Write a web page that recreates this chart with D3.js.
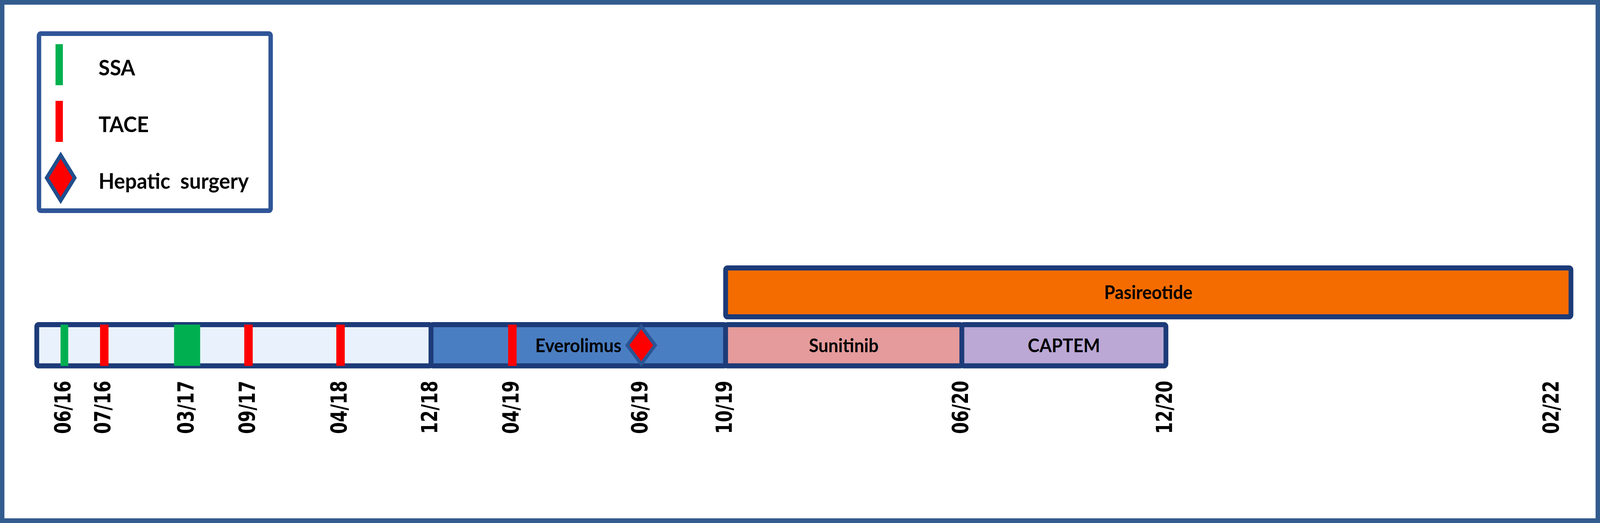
<!DOCTYPE html>
<html>
<head>
<meta charset="utf-8">
<script src="https://cdn.jsdelivr.net/npm/d3@7"></script>
<style>
  html, body { margin: 0; padding: 0; background: #fff; overflow: hidden; }
  svg { display: block; width: 100vw; height: 100vh; }
  text { font-family: Lato, "Open Sans", sans-serif; font-weight: bold; }
</style>
</head>
<body>
<div id="wrapper"></div>
<script>
// timeline dates and their place on the (schematic, non-linear) axis, 0-100
const dateLabels = ['06/16', '07/16', '03/17', '09/17', '04/18', '12/18', '04/19', '06/19', '10/19', '06/20', '12/20', '02/22'];
const datePos = [1.8, 4.4, 9.8, 13.8, 19.8, 25.7, 31.0, 39.4, 44.9, 60.3, 73.6, 98.8];
const axisEnds = { start: 0, end: 100 };

// therapy lines
const therapyName = ['', 'Everolimus', 'Sunitinib', 'CAPTEM', 'Pasireotide'];
const therapyFrom = ['start', '12/18', '10/19', '06/20', '10/19'];
const therapyTo = ['12/18', '10/19', '06/20', '12/20', 'end'];
const therapyRow = ['main', 'main', 'main', 'main', 'upper'];

// events
const ssaDates = ['06/16', '03/17'];
const ssaSpan = [0.5, 1.7];
const taceDates = ['07/16', '09/17', '04/18', '04/19'];
const surgeryDates = ['06/19'];

// legend
const legendLabels = ['SSA', 'TACE', 'Hepatic  surgery'];

function drawTimeline() {
  const pos = d => d in axisEnds ? axisEnds[d] : datePos[dateLabels.indexOf(d)];

  const dimensions = { width: 4351, height: 1338 };
  const navy = '#1c3b78';

  const wrapper = d3.select('#wrapper')
    .append('svg')
    .attr('viewBox', `0 0 ${dimensions.width} ${dimensions.height}`)
    .attr('preserveAspectRatio', 'none');

  // outer frame
  wrapper.append('rect')
    .attr('x', 6).attr('y', 6)
    .attr('width', dimensions.width - 12)
    .attr('height', dimensions.height - 12)
    .attr('fill', '#fff')
    .attr('stroke', '#335c8f')
    .attr('stroke-width', 12);

  // scales
  const xScale = d3.scaleLinear()
    .domain([0, 100])
    .range([100, 4272]);
  const rowY = d3.scaleOrdinal().domain(['upper', 'main']).range([685.5, 830.5]);
  const rowH = d3.scaleOrdinal().domain(['upper', 'main']).range([125, 105.5]);
  const colorScale = d3.scaleOrdinal()
    .domain(therapyName)
    .range(['#e9f2fc', '#4a7ec2', '#e59b9b', '#bba8d5', '#f46c00']);

  const therapies = therapyName.map((name, i) => ({
    name,
    from: pos(therapyFrom[i]),
    to: pos(therapyTo[i]),
    row: therapyRow[i],
  }));

  // therapy bars
  const bars = wrapper.append('g');
  bars.selectAll('rect')
    .data(therapies)
    .join('rect')
    .attr('x', d => xScale(d.from))
    .attr('y', d => rowY(d.row))
    .attr('width', d => xScale(d.to) - xScale(d.from))
    .attr('height', d => rowH(d.row))
    .attr('rx', 5)
    .attr('fill', d => colorScale(d.name))
    .attr('stroke', navy)
    .attr('stroke-width', 13);

  // events on the main line
  const mainTop = rowY('main');
  const mainH = rowH('main');
  const events = wrapper.append('g');
  events.selectAll('.ssa')
    .data(ssaDates)
    .join('rect')
    .attr('class', 'ssa')
    .attr('x', (d, i) => xScale(pos(d) - ssaSpan[i] / 2))
    .attr('y', mainTop)
    .attr('width', (d, i) => xScale(ssaSpan[i]) - xScale(0))
    .attr('height', mainH)
    .attr('fill', '#00b050');
  events.selectAll('.tace')
    .data(taceDates)
    .join('rect')
    .attr('class', 'tace')
    .attr('x', d => xScale(pos(d)) - 11.5)
    .attr('y', mainTop)
    .attr('width', 23)
    .attr('height', mainH)
    .attr('fill', '#ff0000');
  const diamond = (cx, cy, hw, hh) => `M${cx},${cy - hh}L${cx + hw},${cy}L${cx},${cy + hh}L${cx - hw},${cy}Z`;
  events.selectAll('.surgery')
    .data(surgeryDates)
    .join('path')
    .attr('class', 'surgery')
    .attr('d', d => diamond(xScale(pos(d)), mainTop + mainH / 2, 38, 48))
    .attr('fill', '#ff0000')
    .attr('stroke', '#2b5494')
    .attr('stroke-width', 9);

  // therapy labels
  bars.selectAll('text')
    .data(therapies.filter(d => d.name))
    .join('text')
    .attr('x', d => (xScale(d.from) + xScale(d.to)) / 2)
    .attr('y', d => rowY(d.row) + rowH(d.row) / 2)
    .attr('dy', '0.36em')
    .attr('text-anchor', 'middle')
    .attr('fill', '#000')
    .style('font-size', '48px')
    .text(d => d.name);

  // date axis
  const xAxisGenerator = d3.axisBottom(xScale)
    .tickValues(datePos)
    .tickFormat((d, i) => dateLabels[i])
    .tickSize(0);
  const xAxis = wrapper.append('g')
    .attr('transform', 'translate(0, 1110)')
    .call(xAxisGenerator);
  xAxis.select('.domain').remove();
  xAxis.selectAll('text')
    .attr('x', 0)
    .attr('y', 0)
    .attr('dy', 0)
    .attr('transform', 'translate(17, 0) rotate(-90)')
    .attr('text-anchor', 'start')
    .attr('fill', '#000')
    .attr('textLength', 136)
    .attr('lengthAdjust', 'spacingAndGlyphs')
    .style('font-family', '"DejaVu Sans", sans-serif')
    .style('font-weight', 'bold')
    .style('font-size', '60px');

  // legend
  const legend = wrapper.append('g');
  legend.append('rect')
    .attr('x', 106).attr('y', 86)
    .attr('width', 630).attr('height', 453)
    .attr('rx', 5)
    .attr('fill', '#fff')
    .attr('stroke', '#2f5597')
    .attr('stroke-width', 12);
  const legendY = d3.scalePoint().domain(legendLabels).range([165, 455]);
  legend.selectAll('.swatch')
    .data(legendLabels.slice(0, 2))
    .join('rect')
    .attr('class', 'swatch')
    .attr('x', 151)
    .attr('y', d => legendY(d) - 52)
    .attr('width', 20)
    .attr('height', 105)
    .attr('fill', (d, i) => ['#00b050', '#ff0000'][i]);
  legend.append('path')
    .attr('d', diamond(165, legendY(legendLabels[2]), 38, 58))
    .attr('fill', '#ff0000')
    .attr('stroke', '#1f4e8c')
    .attr('stroke-width', 10);
  legend.selectAll('text')
    .data(legendLabels)
    .join('text')
    .attr('x', 268)
    .attr('y', d => legendY(d) + 8)
    .attr('dy', '0.36em')
    .attr('fill', '#000')
    .style('white-space', 'pre')
    .style('font-size', '56px')
    .text(d => d);
}
drawTimeline();
</script>
</body>
</html>
